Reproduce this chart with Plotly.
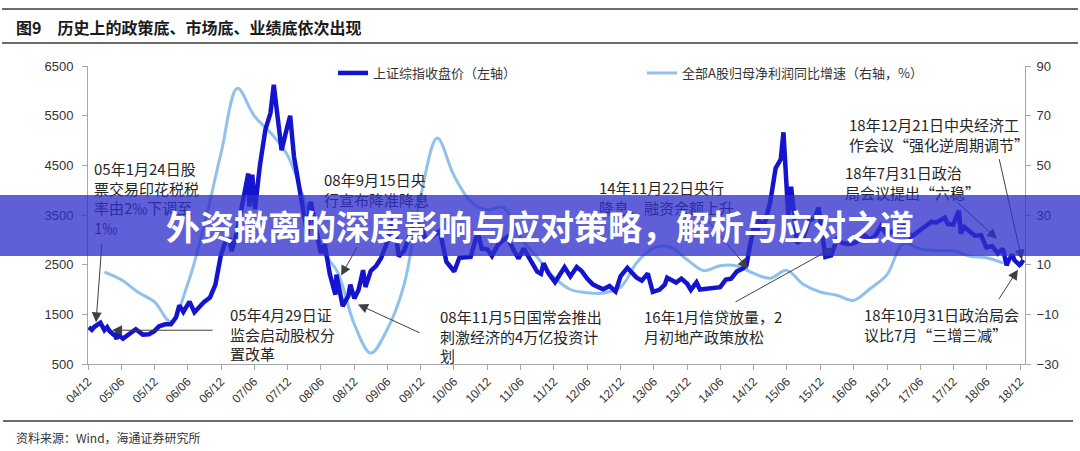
import plotly.graph_objects as go

# 上证综指收盘价（左轴）
sh_dates = [
    "2005-01-04", "2005-01-21", "2005-02-04", "2005-02-25", "2005-03-09", "2005-03-31", "2005-04-15", "2005-04-29",
    "2005-05-31", "2005-06-06", "2005-06-10", "2005-07-11", "2005-08-31", "2005-09-19", "2005-10-28", "2005-11-30", "2005-12-30",
    "2006-01-25", "2006-02-28", "2006-03-31", "2006-04-28", "2006-05-16", "2006-06-07", "2006-07-11", "2006-08-07",
    "2006-09-29", "2006-10-31", "2006-11-30", "2006-12-29",
    "2007-01-24", "2007-02-16", "2007-02-27", "2007-03-30", "2007-04-30", "2007-05-29", "2007-06-04", "2007-06-20",
    "2007-07-05", "2007-07-31", "2007-08-31", "2007-09-28", "2007-10-16", "2007-11-28", "2007-12-28",
    "2008-01-14", "2008-02-04", "2008-03-31", "2008-04-18", "2008-04-30", "2008-05-06", "2008-06-30", "2008-07-22",
    "2008-08-18", "2008-09-18", "2008-09-24", "2008-10-28", "2008-11-28", "2008-12-09", "2008-12-31",
    "2009-01-23", "2009-02-17", "2009-03-02", "2009-03-31", "2009-04-30", "2009-05-27", "2009-06-30", "2009-08-04",
    "2009-08-31", "2009-09-30", "2009-11-24", "2009-12-31",
    "2010-01-29", "2010-02-26", "2010-04-14", "2010-05-20", "2010-07-02", "2010-07-30", "2010-08-31", "2010-09-30",
    "2010-11-08", "2010-11-30", "2010-12-31",
    "2011-01-25", "2011-02-28", "2011-04-18", "2011-05-31", "2011-06-20", "2011-07-18", "2011-08-31", "2011-09-30",
    "2011-10-21", "2011-11-04", "2011-11-30", "2011-12-30",
    "2012-01-06", "2012-02-27", "2012-03-30", "2012-05-04", "2012-05-31", "2012-06-29", "2012-07-31", "2012-08-31",
    "2012-09-26", "2012-10-31", "2012-12-03", "2012-12-31",
    "2013-02-06", "2013-03-29", "2013-04-26", "2013-05-29", "2013-06-25", "2013-07-31", "2013-08-30", "2013-09-12",
    "2013-10-31", "2013-11-29", "2013-12-31",
    "2014-01-20", "2014-02-20", "2014-03-11", "2014-04-30", "2014-05-30", "2014-06-30", "2014-07-31", "2014-08-29",
    "2014-09-30", "2014-10-31", "2014-11-21", "2014-11-28", "2014-12-09", "2014-12-31",
    "2015-01-19", "2015-01-26", "2015-02-27", "2015-03-31", "2015-04-30", "2015-05-28", "2015-06-12", "2015-07-08",
    "2015-07-24", "2015-08-26", "2015-09-30", "2015-10-30", "2015-11-30", "2015-12-22",
    "2016-01-28", "2016-02-29", "2016-03-31", "2016-04-29", "2016-05-31", "2016-06-30", "2016-07-29", "2016-08-31",
    "2016-09-30", "2016-10-31", "2016-11-29", "2016-12-30",
    "2017-01-26", "2017-02-28", "2017-04-11", "2017-05-10", "2017-06-30", "2017-07-31", "2017-08-31", "2017-09-29",
    "2017-11-13", "2017-11-30", "2017-12-29",
    "2018-01-29", "2018-02-09", "2018-02-28", "2018-03-30", "2018-04-27", "2018-05-31", "2018-06-29", "2018-07-31",
    "2018-08-31", "2018-09-28", "2018-10-18", "2018-10-31", "2018-11-19", "2018-11-30", "2018-12-28",
    "2019-01-04", "2019-01-18",
]
sh_close = [
    1243, 1190, 1250, 1306, 1330, 1181, 1240, 1160,
    1060, 1000, 1100, 1010, 1162, 1200, 1092, 1100, 1161,
    1260, 1300, 1299, 1440, 1680, 1550, 1757, 1540,
    1752, 1837, 2099, 2675,
    2970, 2998, 2771, 3183, 3841, 4335, 3670, 4311,
    3615, 4471, 5218, 5552, 6124, 4803, 5262,
    5497, 4672, 3473, 3094, 3693, 3761, 2736, 2904,
    2319, 1896, 2300, 1664, 1871, 2100, 1821,
    1990, 2390, 2050, 2373, 2477, 2633, 2959, 3478,
    2668, 2779, 3338, 3277,
    2989, 3051, 3180, 2560, 2363, 2638, 2639, 2656,
    3159, 2820, 2808,
    2677, 2905, 3057, 2743, 2622, 2826, 2568, 2359,
    2317, 2528, 2333, 2199,
    2148, 2447, 2262, 2452, 2373, 2225, 2103, 2047,
    2004, 2069, 1959, 2269,
    2434, 2237, 2178, 2322, 1950, 1994, 2098, 2237,
    2141, 2220, 2116,
    1992, 2143, 1998, 2026, 2039, 2048, 2201, 2217,
    2364, 2420, 2487, 2683, 2856, 3235,
    3116, 3383, 3310, 3748, 4442, 4620, 5166, 3507,
    4070, 2927, 3053, 3383, 3445, 3651,
    2656, 2688, 3004, 2938, 2917, 2930, 2979, 3085,
    3005, 3100, 3282, 3104,
    3159, 3242, 3289, 3052, 3192, 3273, 3361, 3349,
    3447, 3317, 3307,
    3587, 3129, 3259, 3169, 3082, 3095, 2847, 2876,
    2725, 2821, 2486, 2603, 2703, 2588, 2494,
    2514, 2596,
]

# 全部A股归母净利润同比增速（右轴，%），季度
profit_dates = [
    "2005-03-31", "2005-06-30", "2005-09-30", "2005-12-31",
    "2006-03-31", "2006-06-30", "2006-09-30", "2006-12-31",
    "2007-03-31", "2007-06-30", "2007-09-30", "2007-12-31",
    "2008-03-31", "2008-06-30", "2008-09-30", "2008-12-31",
    "2009-03-31", "2009-06-30", "2009-09-30", "2009-12-31",
    "2010-03-31", "2010-06-30", "2010-09-30", "2010-12-31",
    "2011-03-31", "2011-06-30", "2011-09-30", "2011-12-31",
    "2012-03-31", "2012-06-30", "2012-09-30", "2012-12-31",
    "2013-03-31", "2013-06-30", "2013-09-30", "2013-12-31",
    "2014-03-31", "2014-06-30", "2014-09-30", "2014-12-31",
    "2015-03-31", "2015-06-30", "2015-09-30", "2015-12-31",
    "2016-03-31", "2016-06-30", "2016-09-30", "2016-12-31",
    "2017-03-31", "2017-06-30", "2017-09-30", "2017-12-31",
    "2018-03-31", "2018-06-30", "2018-09-30",
]
profit_growth = [
    7, 4, -1, -5,
    -13, 2, 26, 55,
    81, 70, 63, 54,
    36, 16.5, 7, -14,
    -25.6, -16, 2, 38,
    61, 46, 35.5, 32,
    33, 21, 13, 5,
    0, -1.3, -1.4, 1,
    11, 16.8, 17, 12,
    7.6, 9.6, 9.5, 6.5,
    4.5, 7.7, 2, -1,
    -2.3, -4.4, 0.4, 6,
    18.5, 16.4, 15.7, 15.6,
    13.4, 12.8, 10.6,
]

x_tick_dates = [
    "2004-12-31", "2005-06-30", "2005-12-31", "2006-06-30", "2006-12-31", "2007-06-30", "2007-12-31",
    "2008-06-30", "2008-12-31", "2009-06-30", "2009-12-31", "2010-06-30", "2010-12-31", "2011-06-30",
    "2011-12-31", "2012-06-30", "2012-12-31", "2013-06-30", "2013-12-31", "2014-06-30", "2014-12-31",
    "2015-06-30", "2015-12-31", "2016-06-30", "2016-12-31", "2017-06-30", "2017-12-31", "2018-06-30",
    "2018-12-31",
]
x_tick_labels = [
    "04/12", "05/06", "05/12", "06/06", "06/12", "07/06", "07/12",
    "08/06", "08/12", "09/06", "09/12", "10/06", "10/12", "11/06",
    "11/12", "12/06", "12/12", "13/06", "13/12", "14/06", "14/12",
    "15/06", "15/12", "16/06", "16/12", "17/06", "17/12", "18/06",
    "18/12",
]
left_ticks = [500, 1500, 2500, 3500, 4500, 5500, 6500]
right_ticks = [-30, -10, 10, 30, 50, 70, 90]

# callouts: text, text left / first-line centre (px), arrow tip (date, index value), tail offset (px)
callouts = [
    ("05年1月24日股<br>票交易印花税税<br>率由2‰下调至<br>1‰", 92, 166, "2005-02-13", 1340, 6, -80),
    ("05年4月29日证<br>监会启动股权分<br>置改革", 228, 312, "2005-05-12", 1180, 102, 0),
    ("08年9月15日央<br>行宣布降准降息", 322, 177, "2008-10-19", 2280, 17, -30),
    ("08年11月5日国常会推出<br>刺激经济的4万亿投资计<br>划", 438, 314, "2009-01-20", 1700, 63, 29),
    ("14年11月22日央行<br>降息、融资余额上升", 597, 185, "2014-11-29", 2420, -47, -56),
    ("16年1月信贷放量，2<br>月初地产政策放松", 642, 314, "2016-03-10", 2840, -99, 55),
    ("18年12月21日中央经济工<br>作会议“强化逆周期调节”", 847, 122, "2019-01-10", 2600, -23, -102),
    ("18年7月31日政治<br>局会议提出“六稳”", 843, 170, "2018-08-26", 3020, -41, -38),
    ("18年10月31日政治局会<br>议比7月“三增三减”", 862, 312, "2018-12-19", 2400, -20, 31),
]

FIG_W, FIG_H = 1080, 451
M_L, M_R, M_T, M_B = 88, 55, 66, 87
PLOT_W = FIG_W - M_L - M_R
PLOT_H = FIG_H - M_T - M_B


def pxx(x):
    return (x - M_L) / PLOT_W


def pxy(y):
    return (FIG_H - M_B - y) / PLOT_H


CJK = "Noto Sans CJK SC"
NUM = "Liberation Sans, Arial"
AXIS_GREY = "#a6a6a6"
TXT = "#262626"

fig = go.Figure()
fig.add_trace(go.Scatter(
    x=sh_dates, y=sh_close, name="上证综指收盘价（左轴）", mode="lines",
    line=dict(color="#1414cf", width=4.5), yaxis="y2",
))
fig.add_trace(go.Scatter(
    x=profit_dates, y=profit_growth, name="全部A股归母净利润同比增速（右轴，%）", mode="lines",
    line=dict(color="#8fc1ec", width=3, shape="spline", smoothing=1.0), yaxis="y",
))

annotations = []
annotations.append(dict(
    text="<b>图9\u3000历史上的政策底、市场底、业绩底依次出现</b>",
    xref="paper", yref="paper", x=pxx(14), y=pxy(27), xanchor="left", yanchor="middle",
    showarrow=False, font=dict(family=CJK, size=16, color="#1a1a1a"),
))
annotations.append(dict(
    text="资料来源：Wind，海通证券研究所",
    xref="paper", yref="paper", x=pxx(14), y=pxy(437), xanchor="left", yanchor="middle",
    showarrow=False, font=dict(family=CJK, size=12, color="#333333"),
))

for text, tx, ty, tip_x, tip_y, ax, ay in callouts:
    annotations.append(dict(
        text=text, xref="paper", yref="paper", x=pxx(tx), y=pxy(ty - 10),
        xanchor="left", yanchor="top", align="left", showarrow=False,
        font=dict(family=CJK, size=15, color=TXT),
    ))
    annotations.append(dict(
        text="", xref="x", yref="y2", x=tip_x, y=tip_y, ax=ax, ay=ay,
        showarrow=True, arrowhead=2, arrowsize=2, arrowwidth=1, arrowcolor="#404040",
        standoff=0, startstandoff=0,
    ))

# banner across the middle, drawn last so it covers the callouts
annotations.append(dict(
    text="<b>外资撤离的深度影响与应对策略，解析与应对之道</b>",
    xref="paper", yref="paper", x=pxx(540), y=pxy(225.5), xanchor="center", yanchor="middle",
    width=FIG_W + 4, height=61, borderpad=0, borderwidth=0,
    bgcolor="rgba(47,47,203,0.77)", showarrow=False,
    font=dict(family=CJK, size=34, color="white"),
))

shapes = [
    dict(type="line", xref="paper", yref="paper", x0=pxx(2), x1=pxx(1078), y0=pxy(9), y1=pxy(9),
         line=dict(color="#3a3a3a", width=1.5)),
    dict(type="line", xref="paper", yref="paper", x0=pxx(2), x1=pxx(1078), y0=pxy(43), y1=pxy(43),
         line=dict(color="#3a3a3a", width=1.5)),
    dict(type="line", xref="paper", yref="paper", x0=pxx(3), x1=pxx(1073), y0=pxy(421), y1=pxy(421),
         line=dict(color="#3a3a3a", width=1.5)),
]

fig.update_layout(
    width=FIG_W, height=FIG_H,
    margin=dict(l=M_L, r=M_R, t=M_T, b=M_B),
    paper_bgcolor="white", plot_bgcolor="white",
    showlegend=True,
    legend=dict(
        orientation="h", x=pxx(333), y=pxy(73), xanchor="left", yanchor="middle",
        entrywidth=264, entrywidthmode="pixels", itemwidth=30,
        font=dict(family=CJK, size=13, color="#333333"), bgcolor="rgba(0,0,0,0)",
    ),
    xaxis=dict(
        type="date", range=["2004-12-31", "2019-01-27"],
        tickmode="array", tickvals=x_tick_dates, ticktext=x_tick_labels, tickangle=-45,
        ticks="outside", ticklen=5, tickcolor=AXIS_GREY,
        showline=True, linecolor=AXIS_GREY, linewidth=1, showgrid=False, zeroline=False,
        tickfont=dict(family=NUM, size=12, color="#333333"),
    ),
    yaxis=dict(
        side="right", range=[-30, 90], tickmode="array", tickvals=right_ticks,
        ticks="outside", ticklen=5, tickcolor=AXIS_GREY, ticklabelstandoff=3,
        showline=True, linecolor=AXIS_GREY, linewidth=1, showgrid=False, zeroline=False,
        tickfont=dict(family=NUM, size=13, color="#333333"),
    ),
    yaxis2=dict(
        side="left", overlaying="y", range=[500, 6500], tickmode="array", tickvals=left_ticks,
        ticks="outside", ticklen=5, tickcolor=AXIS_GREY, ticklabelstandoff=6,
        showline=True, linecolor=AXIS_GREY, linewidth=1, showgrid=False, zeroline=False,
        tickfont=dict(family=NUM, size=13, color="#333333"),
    ),
    annotations=annotations,
    shapes=shapes,
)

# the page's default body margin would shift the figure by 8px
fig.write_html(
    "out.html",
    config={"displayModeBar": False},
    post_script="document.body.style.margin='0';",
)
